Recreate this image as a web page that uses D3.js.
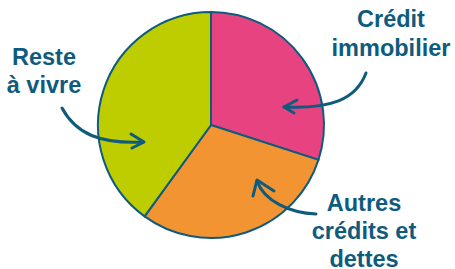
<!DOCTYPE html>
<html>
<head>
<meta charset="utf-8">
<script src="https://cdn.jsdelivr.net/npm/d3@7"></script>
<style>
  body { margin: 0; background: #fff; }
  svg { display: block; }
  .label { font-family: "Liberation Sans", Arial, sans-serif; font-weight: bold; font-size: 23.5px; fill: #0f5b7e; }
  .arrow { fill: none; stroke: #0f5b7e; stroke-width: 3; stroke-linecap: round; stroke-linejoin: round; }
</style>
</head>
<body>
<svg id="chart"></svg>
<script>
// budget split (%)
var categories = ["Crédit immobilier", "Autres crédits et dettes", "Reste à vivre"];
var values = [30, 30, 40];
var colors = ["#e84381", "#f39433", "#bdcd00"];
var labelLines = [["Crédit", "immobilier"], ["Autres", "crédits et", "dettes"], ["Reste", "à vivre"]];

var width = 455,
  height = 269,
  cx = 211,
  cy = 125,
  radius = 113,
  navy = "#0f5b7e";

var svg = d3.select("#chart")
  .attr("width", width)
  .attr("height", height);

var pie = d3.pie().sort(null).value(function(d) { return d; });
var arc = d3.arc().innerRadius(0).outerRadius(radius);

var g = svg.append("g")
  .attr("transform", "translate(" + cx + "," + cy + ")");

g.selectAll(".slice")
  .data(pie(values))
  .enter().append("path")
  .attr("class", "slice")
  .attr("d", arc)
  .style("fill", function(d, i) { return colors[i]; })
  .style("stroke", navy)
  .style("stroke-width", 2)
  .style("stroke-linejoin", "round");

// label positions (centre x, first baseline y, line height)
var labelPos = [[391, 27, 29], [364, 211, 27.8], [44, 65, 28]];

labelLines.forEach(function(lines, i) {
  var t = svg.append("text")
    .attr("class", "label")
    .attr("text-anchor", "middle");
  lines.forEach(function(s, j) {
    t.append("tspan")
      .attr("x", labelPos[i][0])
      .attr("y", labelPos[i][1] + j * labelPos[i][2])
      .text(s);
  });
});

// hand drawn arrows: curve + open head
var arrows = [
  { curve: "M366,73 C356,100 330,109 284,107", head: "M297,100 L284,107 L294,113" },
  { curve: "M316,214 C290,213 264,201 257,181", head: "M274,191 L257,180 L253,196" },
  { curve: "M62,108 C76,134 100,144 143,142", head: "M131,134 L144,142 L132,148" }
];

arrows.forEach(function(a) {
  svg.append("path").attr("class", "arrow").attr("d", a.curve);
  svg.append("path").attr("class", "arrow").attr("d", a.head);
});
</script>
</body>
</html>
